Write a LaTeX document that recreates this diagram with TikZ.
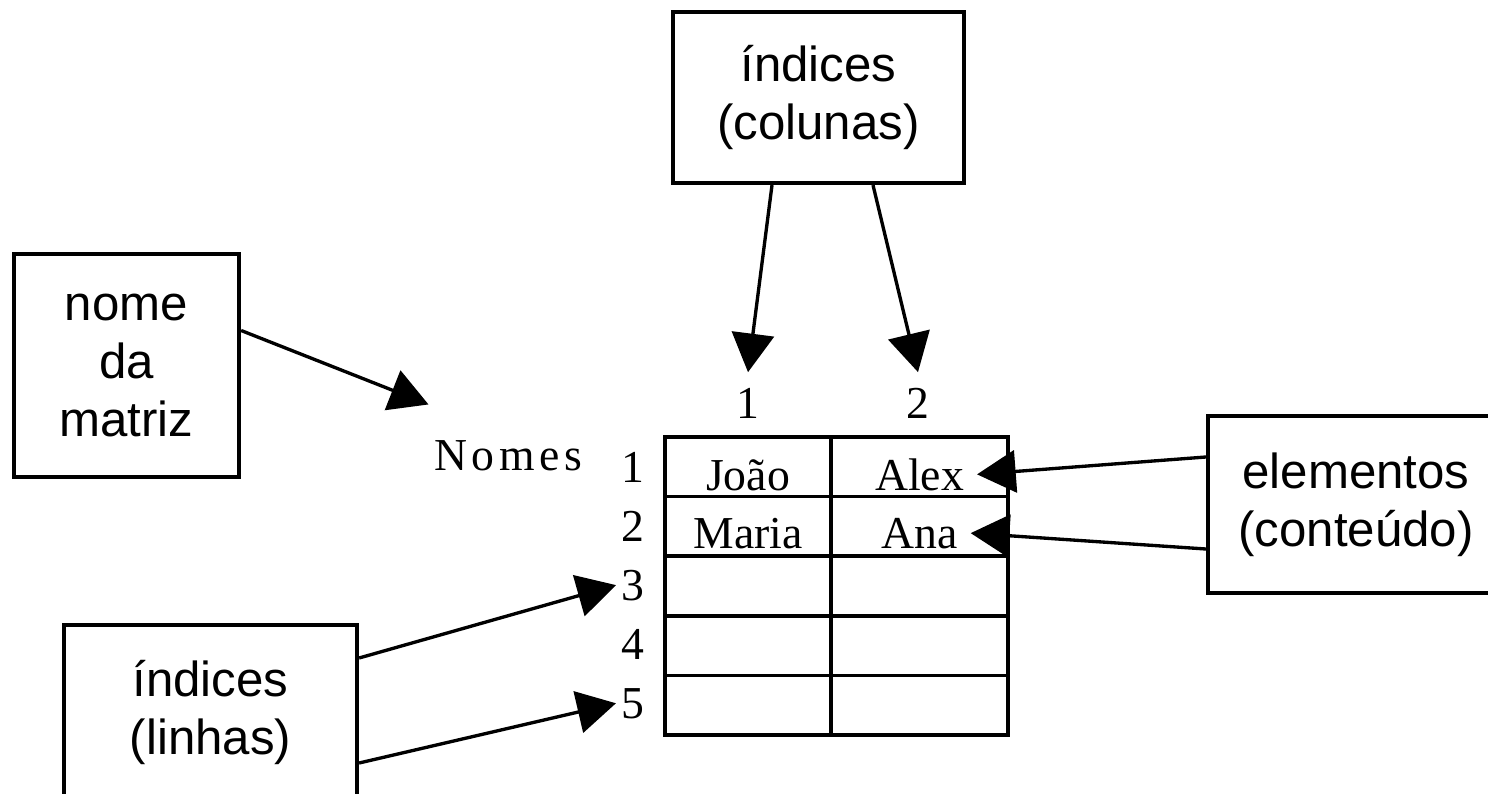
\documentclass[tikz,border=0pt]{standalone}
\usepackage{fontspec}
\setmainfont{Liberation Serif}
\newfontfamily\boxfont{Liberation Sans}
\newfontfamily\spacedfont[LetterSpace=10]{Liberation Serif}
\usetikzlibrary{arrows.meta}

\begin{document}
\begin{tikzpicture}[
    note/.style={draw, line width=2.4pt, align=center, font=\boxfont\fontsize{28}{33}\selectfont},
    arrow/.style={line width=1.9pt, -{Triangle[length=22pt,width=24pt]}},
    grid line/.style={line width=2pt},
    entry/.style={anchor=base, inner sep=3pt, font=\fontsize{26}{30}\selectfont}
]
    \useasboundingbox (0,0) rectangle (29.76,-15.88);

    % Labelled boxes around the matrix
    \node[note, minimum width=5.82cm, minimum height=3.42cm] (colidx) at (16.37,-1.95) {índices\\(colunas)};
    \node[note, minimum width=4.5cm, minimum height=4.46cm] (nome) at (2.53,-7.31) {nome\\da\\matriz};
    \node[note, minimum width=5.92cm, minimum height=3.54cm] (elem) at (27.12,-10.09) {elementos\\(conteúdo)};
    \node[note, minimum width=5.86cm, minimum height=3.5cm] (linidx) at (4.21,-14.25) {índices\\(linhas)};

    % The matrix itself
    \draw[grid line] (13.3,-8.74) rectangle (20.16,-14.7);
    \draw[grid line] (16.62,-8.74) -- (16.62,-14.7);
    \foreach \i in {1,...,4}
        \draw[grid line] (13.3,{-8.74-1.192*\i}) -- (20.16,{-8.74-1.192*\i});

    % Column and row indices
    \node[entry] (c1) at (14.96,-8.36) {1};
    \node[entry] (c2) at (18.36,-8.36) {2};
    \foreach \i in {1,...,5}
        \node[entry] (r\i) at (12.66,{-9.64-1.18*(\i-1)}) {\i};

    \node[entry, font=\spacedfont\fontsize{26}{30}\selectfont] (nomes) at (10.16,-9.4) {Nomes};

    % Contents
    \node[entry] (joao) at (14.96,-9.8) {João};
    \node[entry] (alex) at (18.39,-9.8) {Alex};
    \node[entry] (maria) at (14.96,-10.96) {Maria};
    \node[entry] (ana) at (18.39,-10.96) {Ana};

    % Arrows
    \draw[arrow] ([xshift=-0.93cm]colidx.south) -- ([yshift=0.2cm]c1.north);
    \draw[arrow] ([xshift=1.09cm]colidx.south) -- ([yshift=0.2cm]c2.north);
    \draw[arrow] ([yshift=0.7cm]nome.east) -- ([yshift=0.6cm]nomes.north west);
    \draw[arrow] ([yshift=0.95cm]elem.west) -- ([xshift=0.15cm]alex.east);
    \draw[arrow] ([yshift=-0.89cm]elem.west) -- ([xshift=0.15cm]ana.east);
    \draw[arrow] ([yshift=1.09cm]linidx.east) -- (r3.west);
    \draw[arrow] ([yshift=-1.01cm]linidx.east) -- (r5.west);
\end{tikzpicture}
\end{document}
